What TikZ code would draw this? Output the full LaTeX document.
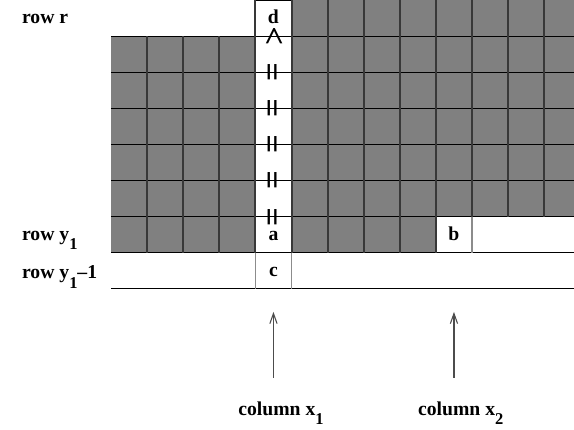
\documentclass[tikz,border=0pt]{standalone}
\usepackage{fontspec}
\setmainfont{Liberation Serif}
\usetikzlibrary{calc,arrows.meta}
\def\lowsub#1{\raisebox{-0.5em}{\fontsize{13}{13}\selectfont #1}}
\tikzset{
	darkcell/.style={fill=black!50},
	vline/.style={line width=0.55mm, color=black!78},
	hline/.style={line width=0.3mm, color=black},
	thinline/.style={line width=0.3mm, color=black!45},
	lbl/.style={font=\fontsize{15.5}{18}\selectfont\bfseries, inner sep=0pt},
	cmp/.style={font=\fontsize{26}{26}\selectfont\bfseries, inner sep=0pt, rotate=90},
	arr/.style={-{Straight Barb[length=2.8mm, width=2mm]}, line width=0.3mm, color=black!70}
}
\begin{document}
\begin{tikzpicture}
			%%%%% START %%%%%
			\useasboundingbox (-3.075, -3.884) rectangle (12.825, 8);
			
			\fill[darkcell] (0, 1) rectangle (4, 7);
			\fill[darkcell] (5, 2) rectangle (12.83, 8);
			\fill[darkcell] (5, 1) rectangle (9, 2);
			
			\draw[hline] (0, 7) -- (12.83, 7);
			\draw[hline] (0, 6) -- (12.83, 6);
			\draw[hline] (0, 5) -- (12.83, 5);
			\draw[hline] (0, 4) -- (12.83, 4);
			\draw[hline] (0, 3) -- (12.83, 3);
			\draw[hline] (0, 2) -- (12.83, 2);
			\draw[hline] (0, 1) -- (12.83, 1);
			\draw[hline] (0, 0) -- (12.83, 0);
			\draw[hline] (4, 8) -- (5, 8);
			
			\draw[vline] (1, 1) -- (1, 7);
			\draw[vline] (2, 1) -- (2, 7);
			\draw[vline] (3, 1) -- (3, 7);
			\draw[vline] (4, 1) -- (4, 8);
			\draw[vline] (5, 1) -- (5, 8);
			\draw[vline] (6, 1) -- (6, 8);
			\draw[vline] (7, 1) -- (7, 8);
			\draw[vline] (8, 1) -- (8, 8);
			\draw[vline] (9, 1) -- (9, 8);
			\draw[vline] (10, 2) -- (10, 8);
			\draw[vline] (11, 2) -- (11, 8);
			\draw[vline] (12, 2) -- (12, 8);
			
			\draw[thinline] (10, 1) -- (10, 2);
			\draw[thinline] (4, 0) -- (4, 1);
			\draw[thinline] (5, 0) -- (5, 1);
			
			\node[cmp] (gt) at (4.57, 7) {>};
			\node[cmp] (eqA) at (4.57, 6) {=};
			\node[cmp] (eqB) at (4.57, 5) {=};
			\node[cmp] (eqC) at (4.57, 4) {=};
			\node[cmp] (eqD) at (4.57, 3) {=};
			\node[cmp] (eqE) at (4.57, 2) {=};
			
			\node[lbl, anchor=base] (cellD) at (4.5, 7.35) {d};
			\node[lbl, anchor=base] (cellA) at (4.5, 1.35) {a};
			\node[lbl, anchor=base] (cellB) at (9.5, 1.35) {b};
			\node[lbl, anchor=base] (cellC) at (4.5, 0.35) {c};
			
			\node[lbl, anchor=base west] (rowR) at (-2.47, 7.35) {row r};
			\node[lbl, anchor=base west] (rowY) at (-2.47, 1.35) {row y\lowsub{1}};
			\node[lbl, anchor=base west] (rowYm) at (-2.47, 0.29) {row y\lowsub{1}\textendash 1};
			
			\coordinate (tailA) at (4.5, -2.47);
			\coordinate (headA) at (4.5, -0.64);
			\draw[arr] (tailA) -- (headA);
			\coordinate (tailB) at (9.5, -2.47);
			\coordinate (headB) at (9.5, -0.64);
			\draw[arr] (tailB) -- (headB);
			
			\node[lbl, anchor=base west] (colA) at (3.52, -3.5) {column x\lowsub{1}};
			\node[lbl, anchor=base west] (colB) at (8.5, -3.5) {column x\lowsub{2}};
			
			%%%%% END %%%%%
\end{tikzpicture}
\end{document}
